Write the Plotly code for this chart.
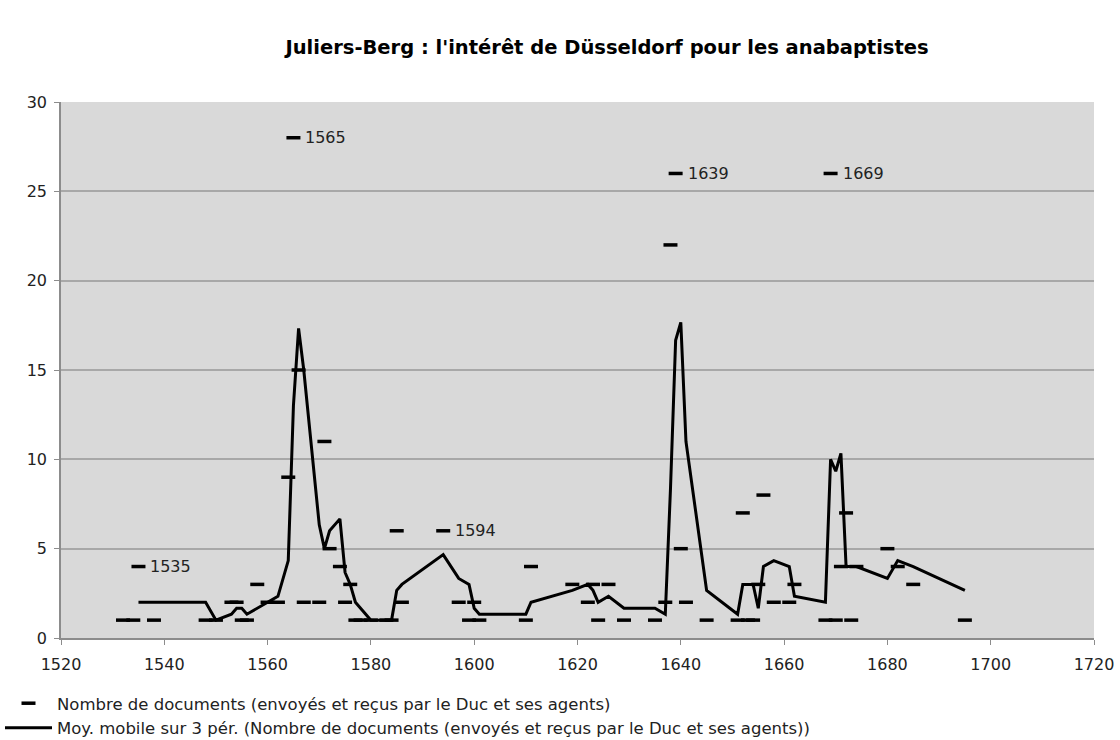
import pandas as pd
import plotly.graph_objects as go

# documents par année
years = [1532, 1534, 1535, 1538, 1548, 1550, 1553, 1554, 1555, 1556,
         1558, 1560, 1562, 1564, 1565, 1566, 1567, 1570, 1571, 1572,
         1574, 1575, 1576, 1577, 1578, 1580, 1583, 1584, 1585, 1586,
         1594, 1597, 1599, 1600, 1601, 1610, 1611, 1619, 1622, 1623,
         1624, 1626, 1629, 1635, 1637, 1638, 1639, 1640, 1641, 1645,
         1651, 1652, 1653, 1654, 1655, 1656, 1658, 1661, 1662, 1668,
         1669, 1670, 1671, 1672, 1673, 1674, 1680, 1682, 1685, 1695]
docs = [1, 1, 4, 1, 1, 1, 2, 2, 1, 1,
        3, 2, 2, 9, 28, 15, 2, 2, 11, 5,
        4, 2, 3, 1, 1, 1, 1, 1, 6, 2,
        6, 2, 1, 2, 1, 1, 4, 3, 2, 3,
        1, 3, 1, 1, 2, 22, 26, 5, 2, 1,
        1, 7, 1, 1, 3, 8, 2, 2, 3, 1,
        26, 1, 4, 7, 1, 4, 5, 4, 3, 1]
label_years = [1535, 1565, 1594, 1639, 1669]

df = pd.DataFrame({"annee": years, "docs": docs})
# moyenne mobile sur 3 périodes, comme la courbe de tendance Excel
df["moy"] = df["docs"].rolling(3).mean()

font = "Verdana, DejaVu Sans, sans-serif"
txt = "#222222"

fig = go.Figure()
fig.add_trace(go.Scatter(
    x=df["annee"], y=df["docs"], mode="markers",
    name="Nombre de documents (envoyés et reçus par le Duc et ses agents)",
    marker=dict(symbol="line-ew", size=10, color="black", line=dict(width=3.5, color="black")),
    legendgroup="a"))
fig.add_trace(go.Scatter(
    x=df["annee"], y=df["moy"], mode="lines",
    name="Moy. mobile sur 3 pér. (Nombre de documents (envoyés et reçus par le Duc et ses agents))",
    line=dict(color="black", width=3), legendgroup="b"))

for yr in label_years:
    val = df.loc[df["annee"] == yr, "docs"].iloc[0]
    fig.add_annotation(x=yr, y=val, text=str(yr), showarrow=False, xanchor="left",
                       xshift=10, font=dict(family=font, size=16, color=txt))

fig.update_layout(
    width=1120, height=740,
    paper_bgcolor="white", plot_bgcolor="#d9d9d9",
    margin=dict(l=61, r=26, t=102, b=102, autoexpand=False),
    title=dict(text="<b>Juliers-Berg : l'intérêt de Düsseldorf pour les anabaptistes</b>",
               x=0.5286, xref="paper", xanchor="center", y=0.9365, yref="container", yanchor="middle",
               font=dict(family=font, size=19.5, color="black")),
    font=dict(family=font, size=16, color=txt),
    showlegend=True,
    legend=dict(x=0.0, xref="container", xanchor="left", y=0.073, yref="container", yanchor="top",
                traceorder="grouped", tracegroupgap=0, itemwidth=47, bgcolor="rgba(0,0,0,0)",
                font=dict(family=font, size=16.5, color=txt)),
)
fig.update_xaxes(range=[1520, 1720], dtick=20, tick0=1520, showgrid=False, zeroline=False,
                 showline=True, linecolor="#8c8c8c", linewidth=1.5, automargin=False, tickangle=0,
                 ticks="outside", ticklen=5, tickcolor="#8c8c8c", ticklabelstandoff=6)
fig.update_yaxes(range=[0, 30], dtick=5, showgrid=True, gridcolor="#a8a8a8", gridwidth=1.5,
                 zeroline=False, showline=True, linecolor="#8c8c8c", linewidth=1.5, automargin=False,
                 ticks="outside", ticklen=5, tickcolor="#8c8c8c", ticklabelstandoff=4)

# la page html ajoute une marge de 8 px autour du graphique : on la retire
fig.write_html("out.html", config={"displayModeBar": False},
               post_script="document.body.style.margin = '0';")
